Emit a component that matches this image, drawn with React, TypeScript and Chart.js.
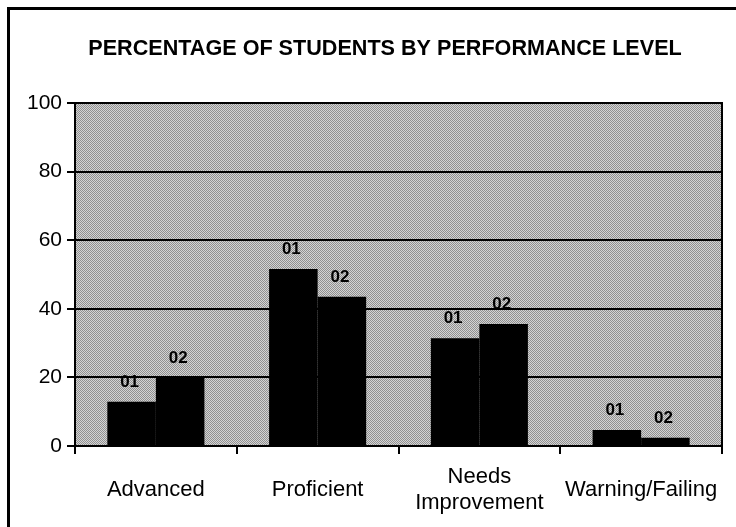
import React, { useEffect, useRef } from "react";
import { Chart, registerables } from "chart.js";

Chart.register(...registerables);

const categories = ["Advanced", "Proficient", ["Needs", "Improvement"], "Warning/Failing"];
const seriesNames = ["01", "02"];
const values01 = [12.9, 51.6, 31.4, 4.7];
const values02 = [19.8, 43.5, 35.6, 2.4];
const yTicks = [0, 20, 40, 60, 80, 100];
const titleText = "PERCENTAGE OF STUDENTS BY PERFORMANCE LEVEL";

const FONT = "'Liberation Sans', Arial, Helvetica, sans-serif";

export default function App() {
  const ref = useRef<HTMLCanvasElement | null>(null);

  useEffect(() => {
    const canvas = ref.current;
    if (!canvas) return;

    const pc = document.createElement("canvas");
    pc.width = 2;
    pc.height = 2;
    const pctx = pc.getContext("2d")!;
    pctx.fillStyle = "#d4d4d4";
    pctx.fillRect(0, 0, 2, 2);
    pctx.fillStyle = "#909090";
    pctx.fillRect(0, 0, 1, 1);
    pctx.fillRect(1, 1, 1, 1);

    const framePlugin = {
      id: "frame",
      beforeDraw(chart: any) {
        const { ctx, chartArea, width, height } = chart;
        ctx.save();
        ctx.fillStyle = "#ffffff";
        ctx.fillRect(0, 0, width, height);
        ctx.fillStyle = "#000000";
        ctx.fillRect(7, 7, width - 7, 3);
        ctx.fillRect(7, 7, 3, height - 7);
        const pat = ctx.createPattern(pc, "repeat");
        ctx.fillStyle = pat || "#b2b2b2";
        ctx.fillRect(chartArea.left, chartArea.top, chartArea.right - chartArea.left, chartArea.bottom - chartArea.top);
        ctx.restore();
      },
      afterDraw(chart: any) {
        const { ctx, chartArea, width } = chart;
        ctx.save();
        ctx.strokeStyle = "#000";
        ctx.lineWidth = 2;
        ctx.beginPath();
        ctx.moveTo(chartArea.right, chartArea.top - 1);
        ctx.lineTo(chartArea.right, chartArea.bottom);
        ctx.stroke();
        // title
        ctx.fillStyle = "#000";
        ctx.font = `bold 21.6px ${FONT}`;
        ctx.textAlign = "center";
        ctx.textBaseline = "middle";
        ctx.fillText(titleText, width / 2 + 17, 49);
        ctx.restore();
      },
    };

    const labelPlugin = {
      id: "barLabels",
      afterDatasetsDraw(chart: any) {
        const { ctx } = chart;
        ctx.save();
        ctx.fillStyle = "#000";
        ctx.font = `bold 17px ${FONT}`;
        ctx.textAlign = "center";
        ctx.textBaseline = "alphabetic";
        chart.data.datasets.forEach((ds: any, di: number) => {
          const meta = chart.getDatasetMeta(di);
          meta.data.forEach((el: any) => {
            ctx.fillText(ds.label, el.x - 2, el.y - 15);
          });
        });
        ctx.restore();
      },
    };

    const chart = new Chart(canvas, {
      type: "bar",
      data: {
        labels: categories as any,
        datasets: [
          {
            label: seriesNames[0],
            data: values01,
            backgroundColor: "#000000",
            borderWidth: 0,
            barPercentage: 1,
            categoryPercentage: 0.6,
          },
          {
            label: seriesNames[1],
            data: values02,
            backgroundColor: "#000000",
            borderWidth: 0,
            barPercentage: 1,
            categoryPercentage: 0.6,
          },
        ],
      },
      options: {
        responsive: false,
        animation: false,
        devicePixelRatio: 1,
        layout: { padding: { left: 20, right: 14, top: 103, bottom: 4 } },
        plugins: {
          legend: { display: false },
          tooltip: { enabled: false },
          title: { display: false },
        },
        scales: {
          x: {
            offset: true,
            afterFit: (scale: any) => {
              scale.height = 77;
              scale.paddingLeft = 0;
              scale.paddingRight = 0;
            },
            grid: {
              offset: true,
              drawOnChartArea: false,
              drawTicks: true,
              tickLength: 8,
              color: "#000",
              lineWidth: 2,
            },
            border: { display: true, color: "#000", width: 2 },
            ticks: {
              color: "#000",
              font: { family: FONT, size: 22, lineHeight: 1.2 },
              padding: 23,
              maxRotation: 0,
              autoSkip: false,
              crossAlign: "center",
            },
          },
          y: {
            min: 0,
            max: 100,
            afterBuildTicks: (scale: any) => {
              scale.ticks = yTicks.map((v) => ({ value: v }));
            },
            afterFit: (scale: any) => {
              scale.width = 55;
            },
            grid: {
              color: "#000",
              lineWidth: 2,
              drawTicks: true,
              tickLength: 8,
            },
            border: { display: true, color: "#000", width: 2 },
            ticks: {
              color: "#000",
              font: { family: FONT, size: 21 },
              padding: 5,
            },
          },
        },
      },
      plugins: [framePlugin, labelPlugin],
    });

    return () => chart.destroy();
  }, []);

  return (
    <canvas
      ref={ref}
      width={736}
      height={527}
      style={{ position: "fixed", left: 0, top: 0, width: 736, height: 527, display: "block" }}
    />
  );
}
